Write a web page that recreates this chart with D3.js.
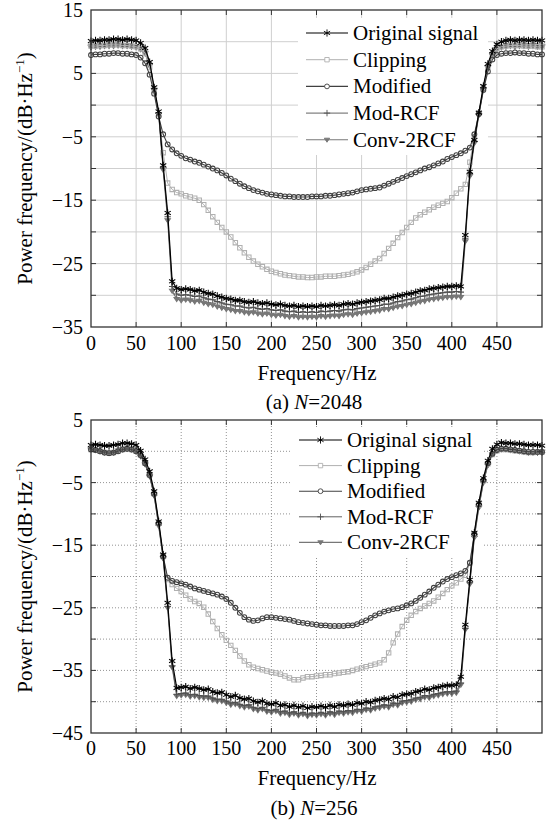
<!DOCTYPE html>
<html>
<head>
<meta charset="utf-8">
<script src="https://cdn.jsdelivr.net/npm/d3@7"></script>
<style>
  body { margin: 0; background: #fff; }
</style>
</head>
<body>
<svg id="chart" width="555" height="820"></svg>
<script>
// frequency bins (Hz)
const freq = [
  0, 5, 10, 15, 20, 25, 30, 35, 40, 45,
  50, 55, 60, 65, 70, 75, 80, 85, 90, 95,
  100, 105, 110, 115, 120, 125, 130, 135, 140, 145,
  150, 155, 160, 165, 170, 175, 180, 185, 190, 195,
  200, 205, 210, 215, 220, 225, 230, 235, 240, 245,
  250, 255, 260, 265, 270, 275, 280, 285, 290, 295,
  300, 305, 310, 315, 320, 325, 330, 335, 340, 345,
  350, 355, 360, 365, 370, 375, 380, 385, 390, 395,
  400, 405, 410, 415, 420, 425, 430, 435, 440, 445,
  450, 455, 460, 465, 470, 475, 480, 485, 490, 495,
  500
];

const seriesNames = ['Original signal', 'Clipping', 'Modified', 'Mod-RCF', 'Conv-2RCF'];

// (a) N=2048
const aOrig = [
  10.1, 10.2, 10.2, 10.3, 10.3, 10.4, 10.4, 10.3, 10.4, 10.3,
  10.2, 9.8, 9.0, 6.8, 2.8, -1.0, -9.5, -17.0, -27.8, -28.9,
  -29.1, -29.0, -29.1, -29.3, -29.2, -29.5, -29.7, -29.8, -30.1, -30.3,
  -30.5, -30.6, -30.8, -30.8, -31.0, -31.1, -31.0, -31.2, -31.3, -31.2,
  -31.4, -31.5, -31.4, -31.6, -31.7, -31.6, -31.8, -31.7, -31.8, -31.7,
  -31.8, -31.6, -31.7, -31.6, -31.5, -31.6, -31.4, -31.3, -31.4, -31.2,
  -31.1, -31.0, -30.9, -30.8, -30.7, -30.5, -30.5, -30.3, -30.1, -30.0,
  -29.8, -29.7, -29.5, -29.3, -29.2, -29.0, -28.9, -28.8, -28.7, -28.6,
  -28.6, -28.5, -28.6, -20.5, -10.5, -5.5, -1.2, 3.0, 6.5, 8.5,
  9.6, 10.0, 10.2, 10.3, 10.2, 10.3, 10.3, 10.2, 10.3, 10.2,
  10.2
];
const aClip = [
  9.3, 9.3, 9.4, 9.4, 9.5, 9.5, 9.5, 9.4, 9.4, 9.3,
  9.2, 8.9, 8.2, 6.0, 2.3, -1.5, -7.5, -12.3, -13.3, -13.8,
  -14.0, -14.3, -14.5, -14.7, -15.0, -15.7, -16.6, -17.6, -18.5, -19.3,
  -20.0, -20.8, -21.7, -22.5, -23.3, -24.0, -24.6, -25.1, -25.5, -25.9,
  -26.2, -26.4, -26.6, -26.8, -26.9, -27.0, -27.1, -27.1, -27.2, -27.2,
  -27.1, -27.1, -27.0, -27.0, -27.0, -26.9, -26.8, -26.7, -26.5, -26.3,
  -26.0, -25.6, -25.1, -24.6, -24.2, -23.4, -22.6, -21.8, -20.9, -20.1,
  -19.3, -18.5, -17.8, -17.3, -16.9, -16.5, -16.1, -15.8, -15.5, -15.2,
  -14.6, -13.9, -13.2, -12.5, -9.0, -5.0, -1.2, 2.8, 6.0, 8.0,
  8.9, 9.2, 9.3, 9.4, 9.4, 9.4, 9.3, 9.3, 9.3, 9.2,
  9.2
];
const aMod = [
  7.9, 8.0, 8.0, 8.1, 8.1, 8.2, 8.2, 8.1, 8.1, 8.0,
  7.9, 7.5, 6.6, 4.8, 1.8, -1.8, -4.6, -6.2, -7.0, -7.6,
  -8.0, -8.4, -8.6, -8.9, -9.1, -9.4, -9.7, -10.0, -10.3, -10.7,
  -11.1, -11.6, -12.0, -12.4, -12.8, -13.1, -13.4, -13.6, -13.8, -14.0,
  -14.1, -14.2, -14.3, -14.4, -14.4, -14.5, -14.5, -14.5, -14.5, -14.4,
  -14.4, -14.4, -14.3, -14.3, -14.2, -14.1, -14.0, -13.9, -13.8, -13.6,
  -13.4, -13.3, -13.2, -13.1, -13.0, -12.7, -12.4, -12.1, -11.8, -11.5,
  -11.2, -10.9, -10.6, -10.3, -10.0, -9.8, -9.5, -9.2, -8.9, -8.5,
  -8.2, -7.9, -7.6, -7.2, -6.7, -4.6, -1.4, 2.4, 5.3, 7.2,
  7.9, 8.1, 8.2, 8.2, 8.3, 8.2, 8.2, 8.1, 8.1, 8.0,
  8.0
];
const aModRcf = [
  9.6, 9.6, 9.7, 9.7, 9.8, 9.8, 9.8, 9.7, 9.7, 9.6,
  9.5, 9.2, 8.5, 6.5, 2.6, -1.3, -9.9, -17.6, -28.6, -29.8,
  -30.0, -29.9, -30.0, -30.2, -30.1, -30.4, -30.6, -30.7, -31.0, -31.2,
  -31.4, -31.5, -31.7, -31.7, -31.9, -32.0, -31.9, -32.1, -32.2, -32.1,
  -32.3, -32.4, -32.3, -32.5, -32.6, -32.5, -32.7, -32.6, -32.7, -32.6,
  -32.7, -32.5, -32.6, -32.5, -32.4, -32.5, -32.3, -32.2, -32.3, -32.1,
  -32.0, -31.9, -31.8, -31.7, -31.6, -31.4, -31.4, -31.2, -31.0, -30.9,
  -30.7, -30.6, -30.4, -30.2, -30.1, -29.9, -29.8, -29.7, -29.6, -29.5,
  -29.5, -29.4, -29.5, -21.0, -10.8, -5.7, -1.4, 2.7, 6.2, 8.1,
  9.1, 9.4, 9.6, 9.7, 9.7, 9.8, 9.7, 9.7, 9.7, 9.6,
  9.6
];
const aConv = [
  9.1, 9.2, 9.2, 9.3, 9.3, 9.3, 9.4, 9.3, 9.3, 9.2,
  9.1, 8.8, 8.1, 6.2, 2.4, -1.5, -10.2, -18.2, -29.3, -30.6,
  -30.8, -30.7, -30.8, -31.0, -30.9, -31.2, -31.4, -31.5, -31.8, -32.0,
  -32.2, -32.3, -32.5, -32.5, -32.7, -32.8, -32.7, -32.9, -33.0, -32.9,
  -33.1, -33.2, -33.1, -33.3, -33.4, -33.3, -33.5, -33.4, -33.5, -33.4,
  -33.5, -33.3, -33.4, -33.3, -33.2, -33.3, -33.1, -33.0, -33.1, -32.9,
  -32.8, -32.7, -32.6, -32.5, -32.4, -32.2, -32.2, -32.0, -31.8, -31.7,
  -31.5, -31.4, -31.2, -31.0, -30.9, -30.7, -30.6, -30.5, -30.4, -30.3,
  -30.3, -30.2, -30.3, -21.5, -11.2, -6.0, -1.6, 2.4, 5.9, 7.8,
  8.8, 9.1, 9.2, 9.3, 9.2, 9.3, 9.3, 9.2, 9.3, 9.2,
  9.2
];

// (b) N=256
const bOrig = [
  1.0, 1.1, 1.0, 0.9, 0.9, 1.0, 1.1, 1.3, 1.3, 1.2,
  1.0, 0.1, -1.3, -3.2, -6.4, -11.2, -16.5, -24.2, -33.5, -37.8,
  -37.7, -37.6, -37.9, -37.7, -37.9, -38.1, -38.0, -38.4, -38.6, -38.5,
  -38.9, -39.2, -39.0, -39.4, -39.6, -39.5, -39.9, -40.1, -39.9, -40.3,
  -40.4, -40.2, -40.6, -40.5, -40.8, -40.6, -40.9, -40.7, -41.0, -40.8,
  -40.9, -40.7, -40.9, -40.6, -40.8, -40.5, -40.6, -40.4, -40.5, -40.2,
  -40.3, -40.0, -40.1, -39.8, -39.7, -39.5, -39.6, -39.2, -39.3, -38.9,
  -38.8, -38.7, -38.4, -38.3, -38.0, -38.1, -37.8, -37.7, -37.5, -37.4,
  -37.4, -37.3, -36.0, -27.7, -20.5, -13.0, -8.2, -4.3, -1.5, 0.4,
  1.1, 1.4, 1.3, 1.3, 1.2, 1.2, 1.1, 1.0, 1.0, 1.0,
  0.9
];
const bClip = [
  0.3, 0.2, 0.0, -0.2, -0.3, -0.2, 0.0, 0.3, 0.4, 0.3,
  0.0, -0.6, -1.9, -3.8, -6.8, -11.5, -16.8, -20.5, -21.3, -21.9,
  -22.4, -23.0, -23.6, -24.0, -24.3, -24.9, -26.0, -27.2, -28.3, -29.3,
  -30.2, -31.0, -31.8, -32.7, -33.5, -34.1, -34.5, -34.7, -34.9, -35.1,
  -35.3, -35.4, -35.6, -35.9, -36.2, -36.5, -36.5, -36.2, -36.0, -36.0,
  -35.9, -35.8, -35.7, -35.7, -35.5, -35.4, -35.3, -35.2, -35.0, -34.8,
  -34.6, -34.4, -34.2, -34.0, -33.8, -33.3, -32.2, -30.6, -29.2, -28.0,
  -27.0, -26.2, -25.6, -25.1, -24.7, -24.3, -23.9, -23.3, -22.7, -22.1,
  -21.5, -21.0, -20.4, -19.8, -17.9, -13.3, -8.6, -4.7, -2.0, -0.5,
  0.1, 0.3, 0.3, 0.2, 0.1, 0.0, -0.1, -0.2, -0.2, -0.1,
  -0.1
];
const bMod = [
  0.3, 0.2, 0.0, -0.2, -0.3, -0.2, 0.0, 0.3, 0.4, 0.3,
  0.0, -0.6, -1.9, -3.8, -6.8, -11.5, -16.8, -20.2, -20.7, -20.9,
  -21.1, -21.3, -21.6, -21.9, -22.1, -22.3, -22.5, -22.7, -22.9, -23.2,
  -23.6, -24.2, -25.0, -25.8, -26.5, -26.9, -27.1, -27.0, -26.7, -26.5,
  -26.5, -26.6, -26.7, -26.8, -26.9, -27.1, -27.3, -27.4, -27.5, -27.6,
  -27.7, -27.8, -27.8, -27.9, -27.9, -27.9, -27.9, -27.8, -27.8, -27.6,
  -27.3, -27.0, -26.6, -26.2, -25.9, -25.6, -25.4, -25.2, -25.1, -24.9,
  -24.6, -24.3, -23.9, -23.4, -22.9, -22.4, -21.8, -21.3, -20.8, -20.4,
  -20.1, -19.8, -19.5, -19.1, -17.8, -13.2, -8.5, -4.6, -1.9, -0.4,
  0.2, 0.4, 0.4, 0.3, 0.2, 0.1, 0.0, -0.1, -0.1, -0.1,
  -0.1
];
const bModRcf = [
  0.4, 0.3, 0.1, -0.1, -0.2, -0.1, 0.1, 0.3, 0.4, 0.3,
  0.0, -0.7, -2.0, -3.9, -7.0, -11.8, -17.0, -24.8, -34.3, -38.8,
  -38.7, -38.6, -38.9, -38.8, -39.0, -39.1, -39.1, -39.4, -39.6, -39.6,
  -39.9, -40.2, -40.1, -40.4, -40.6, -40.5, -40.9, -41.1, -40.9, -41.3,
  -41.4, -41.2, -41.6, -41.5, -41.8, -41.6, -41.9, -41.7, -42.0, -41.8,
  -41.9, -41.7, -41.9, -41.6, -41.8, -41.5, -41.6, -41.4, -41.5, -41.2,
  -41.3, -41.0, -41.1, -40.8, -40.7, -40.5, -40.6, -40.2, -40.3, -39.9,
  -39.8, -39.7, -39.4, -39.3, -39.0, -39.1, -38.8, -38.7, -38.5, -38.4,
  -38.4, -38.3, -37.0, -28.3, -21.0, -13.6, -8.8, -4.9, -2.1, -0.4,
  0.2, 0.4, 0.4, 0.3, 0.2, 0.1, 0.0, -0.1, -0.1, -0.2,
  -0.2
];
const bConv = [
  0.3, 0.2, 0.0, -0.2, -0.3, -0.2, 0.1, 0.3, 0.4, 0.3,
  0.0, -0.8, -2.1, -4.0, -7.1, -11.9, -17.1, -25.0, -34.5, -39.1,
  -39.0, -38.9, -39.2, -39.1, -39.3, -39.4, -39.4, -39.7, -39.9, -39.9,
  -40.2, -40.5, -40.4, -40.7, -40.9, -40.8, -41.2, -41.4, -41.2, -41.6,
  -41.7, -41.5, -41.9, -41.8, -42.1, -41.9, -42.2, -42.0, -42.3, -42.1,
  -42.2, -42.0, -42.2, -41.9, -42.1, -41.8, -41.9, -41.7, -41.8, -41.5,
  -41.6, -41.3, -41.4, -41.1, -41.0, -40.8, -40.9, -40.5, -40.6, -40.2,
  -40.1, -40.0, -39.7, -39.6, -39.3, -39.4, -39.1, -39.0, -38.8, -38.7,
  -38.7, -38.6, -37.3, -28.5, -21.2, -13.8, -9.0, -5.0, -2.2, -0.5,
  0.1, 0.3, 0.3, 0.2, 0.1, 0.0, -0.1, -0.2, -0.2, -0.1,
  -0.1
];

const xTicks = [0, 50, 100, 150, 200, 250, 300, 350, 400, 450];
const aYTicks = [15, 5, -5, -15, -25, -35];
const bYTicks = [5, -5, -15, -25, -35, -45];

const serif = 'Liberation Serif';

// marker shapes
function markerPath(kind, r) {
  if (kind === 'star') {
    const c = r * 0.866, s = r * 0.5;
    return `M0,${-r}V${r}M${-c},${-s}L${c},${s}M${-c},${s}L${c},${-s}`;
  }
  if (kind === 'plus') return `M${-r},0H${r}M0,${-r}V${r}`;
  if (kind === 'square') return `M${-r},${-r}H${r}V${r}H${-r}Z`;
  if (kind === 'circle') return `M${-r},0A${r},${r} 0 1,0 ${r},0A${r},${r} 0 1,0 ${-r},0Z`;
  if (kind === 'tri') return `M${-r},${-r * 0.6}H${r}L0,${r * 0.9}Z`;
}

const styles = [
  { color: '#000', marker: 'star', r: 3.6, fill: 'none', width: 1.2 },
  { color: '#b0b0b0', marker: 'square', r: 2.2, fill: 'none', width: 1 },
  { color: '#404040', marker: 'circle', r: 2.4, fill: 'none', width: 1.1 },
  { color: '#505050', marker: 'plus', r: 3.2, fill: 'none', width: 0.9 },
  { color: '#777', marker: 'tri', r: 2.7, fill: '#777', width: 1.1 }
];

const panels = [
  {
    top: 10, bottom: 327, yDomain: [-35, 15], yTicks: aYTicks, dotted: false,
    data: [aOrig, aClip, aMod, aModRcf, aConv],
    tickBase: 350, labelBase: 380, captionBase: 409, cap: ['(a) ', 'N', '=2048'],
    legend: { x0: 306, x1: 348, tx: 353, y0: 33, dy: 26.7, box: [298, 18, 190, 137] }
  },
  {
    top: 420, bottom: 733, yDomain: [-45, 5], yTicks: bYTicks, dotted: true,
    data: [bOrig, bClip, bMod, bModRcf, bConv],
    tickBase: 755, labelBase: 785, captionBase: 815, cap: ['(b) ', 'N', '=256'],
    legend: { x0: 299, x1: 342, tx: 347, y0: 440, dy: 25.6, box: [291, 427, 192, 130] }
  }
];

const svg = d3.select('#chart');
const left = 91, right = 542;
const fmt = v => (v < 0 ? '\u2212' + Math.abs(v) : String(v));

// every label gets the serif face set on itself
function addText(parent) {
  return parent.append('text').attr('font-family', serif).style('font-family', serif).attr('fill', '#000');
}

panels.forEach(p => {
  const x = d3.scaleLinear().domain([0, 500]).range([left, right]);
  const y = d3.scaleLinear().domain(p.yDomain).range([p.bottom, p.top]);
  const g = svg.append('g');
  const yGrid = d3.range(p.yDomain[0] + 5, p.yDomain[1], 5);

  // grid
  const gridStyle = sel => sel
    .attr('stroke', p.dotted ? '#777' : '#cfcfcf')
    .attr('stroke-width', p.dotted ? 0.8 : 1)
    .attr('stroke-dasharray', p.dotted ? '1,2' : null);
  g.append('g').selectAll('line').data(xTicks.slice(1)).enter().append('line')
    .attr('x1', d => x(d)).attr('x2', d => x(d))
    .attr('y1', p.top).attr('y2', p.bottom).call(gridStyle);
  g.append('g').selectAll('line').data(yGrid).enter().append('line')
    .attr('x1', left).attr('x2', right)
    .attr('y1', d => y(d)).attr('y2', d => y(d)).call(gridStyle);

  // legend background hides the grid
  const L = p.legend;
  g.append('rect').attr('x', L.box[0]).attr('y', L.box[1])
    .attr('width', L.box[2]).attr('height', L.box[3]).attr('fill', '#fff');

  // curves, original on top
  const line = d3.line().x((d, i) => x(freq[i])).y(d => y(d));
  [4, 3, 1, 2, 0].forEach(k => {
    const st = styles[k];
    const vals = p.data[k];
    g.append('path').attr('d', line(vals))
      .attr('fill', 'none').attr('stroke', st.color).attr('stroke-width', st.width);
    g.append('g').selectAll('path').data(vals).enter().append('path')
      .attr('d', markerPath(st.marker, st.r))
      .attr('transform', (d, i) => `translate(${x(freq[i])},${y(d)})`)
      .attr('fill', st.fill).attr('stroke', st.color).attr('stroke-width', 1.05);
  });

  // legend entries
  seriesNames.forEach((name, k) => {
    const st = styles[k];
    const ly = L.y0 + k * L.dy;
    g.append('line').attr('x1', L.x0).attr('x2', L.x1).attr('y1', ly).attr('y2', ly)
      .attr('stroke', st.color).attr('stroke-width', st.width);
    g.append('path').attr('d', markerPath(st.marker, st.r))
      .attr('transform', `translate(${(L.x0 + L.x1) / 2},${ly})`)
      .attr('fill', st.fill === 'none' ? '#fff' : st.fill)
      .attr('stroke', st.color).attr('stroke-width', 0.9);
    addText(g).attr('x', L.tx).attr('y', ly + 7)
      .attr('font-size', 21).text(name);
  });

  // frame and inward ticks
  g.append('rect').attr('x', left).attr('y', p.top)
    .attr('width', right - left).attr('height', p.bottom - p.top)
    .attr('fill', 'none').attr('stroke', '#333').attr('stroke-width', 1.3);
  const tickStyle = sel => sel.attr('stroke', '#333').attr('stroke-width', 1);
  xTicks.slice(1).forEach(t => {
    g.append('line').attr('x1', x(t)).attr('x2', x(t)).attr('y1', p.bottom).attr('y2', p.bottom - 5).call(tickStyle);
    g.append('line').attr('x1', x(t)).attr('x2', x(t)).attr('y1', p.top).attr('y2', p.top + 5).call(tickStyle);
  });
  yGrid.forEach(t => {
    g.append('line').attr('x1', left).attr('x2', left + 5).attr('y1', y(t)).attr('y2', y(t)).call(tickStyle);
    g.append('line').attr('x1', right).attr('x2', right - 5).attr('y1', y(t)).attr('y2', y(t)).call(tickStyle);
  });

  // tick labels
  xTicks.forEach(t => {
    addText(g).attr('x', x(t)).attr('y', p.tickBase)
      .attr('text-anchor', 'middle').attr('font-size', 20).text(t);
  });
  p.yTicks.forEach(t => {
    addText(g).attr('x', 83).attr('y', y(t) + 7)
      .attr('text-anchor', 'end').attr('font-size', 20).text(fmt(t));
  });

  // axis titles
  const yl = addText(g).attr('font-size', 21).attr('text-anchor', 'middle')
    .attr('transform', `translate(32,${(p.top + p.bottom) / 2}) rotate(-90)`);
  yl.append('tspan').text('Power frequency/(dB\u00b7Hz');
  yl.append('tspan').attr('font-size', 13).attr('dy', -8).text('\u22121');
  yl.append('tspan').attr('dy', 8).text(')');

  addText(g).attr('x', 317).attr('y', p.labelBase)
    .attr('text-anchor', 'middle').attr('font-size', 21).text('Frequency/Hz');
  const cap = addText(g).attr('x', 314).attr('y', p.captionBase)
    .attr('text-anchor', 'middle').attr('font-size', 21);
  cap.append('tspan').text(p.cap[0]);
  cap.append('tspan').attr('font-style', 'italic').text(p.cap[1]);
  cap.append('tspan').text(p.cap[2]);
});
</script>
</body>
</html>
